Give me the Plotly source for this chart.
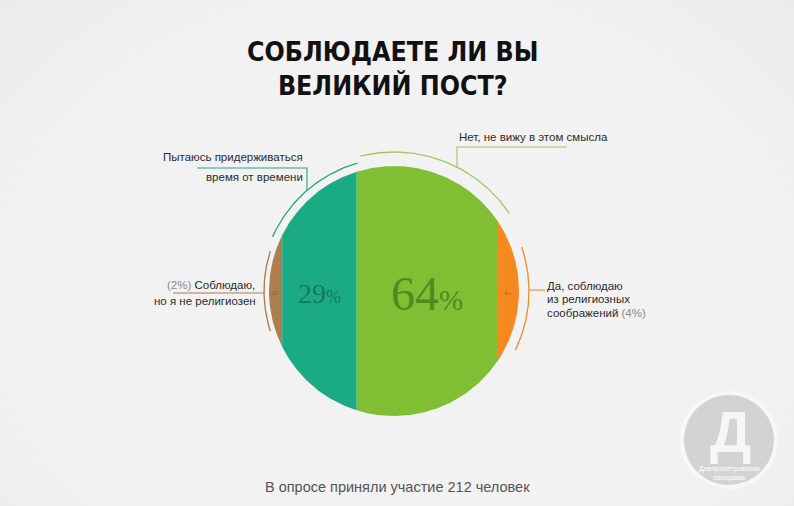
import numpy as np
import plotly.graph_objects as go

# ---------------- data ----------------
categories = ["Соблюдаю, но я не религиозен",
              "Пытаюсь придерживаться время от времени",
              "Нет, не вижу в этом смысла",
              "Да, соблюдаю из религиозных соображений"]
values = [2, 29, 64, 4]
inner_labels = ["2%", "29%", "64%", "4%"]
title_text = "СОБЛЮДАЕТЕ ЛИ ВЫ<br>ВЕЛИКИЙ ПОСТ?"
footer_text = "В опросе приняли участие 212 человек"

# ---------------- styles ----------------
W, H = 794, 506
CX, CY, R = 394, 291, 125
fill_colors = ["#ad7f4e", "#1bab84", "#80bf33", "#f5891f"]
label_colors = ["#7a5530", "#147a5c", "#4e8c1e", "#b35f0c"]
arc_colors = ["#a97a4f", "#2aa382", "#a3c766", "#ef8a2c"]
# arcs: (radius, start deg, end deg)
arcs = [(130, 162, 198), (133, 106, 156), (139, 34, 104), (135, -26, 19)]
SANS = "Liberation Sans, Arial, sans-serif"
SERIF = "Liberation Serif, DejaVu Serif, serif"


def left_frac(x):
    return (x * np.sqrt(1 - x * x) + np.arcsin(x) + np.pi / 2) / np.pi


def solve(c):
    lo, hi = -1.0, 1.0
    for _ in range(60):
        mid = (lo + hi) / 2
        if left_frac(mid) < c:
            lo = mid
        else:
            hi = mid
    return (lo + hi) / 2


total = sum(values)
cum = np.cumsum([0] + values) / total
bounds = [solve(c) if 0 < c < 1 else (-1.0 if c <= 0 else 1.0) for c in cum]

fig = go.Figure()

# background light radial glow (many faint layers -> smooth)
shapes = []
n_layers = 26
for k in range(n_layers):
    rr = 560 - k * 20
    shapes.append(dict(type="circle", xref="x", yref="y", layer="below",
                       x0=400 - rr * 1.3, x1=400 + rr * 1.3, y0=300 - rr, y1=300 + rr,
                       fillcolor="white", opacity=0.07, line=dict(width=0)))
# watermark
shapes.append(dict(type="circle", xref="x", yref="y", layer="below",
                   x0=680, x1=778, y0=391, y1=489,
                   fillcolor="#f7f7f7", line=dict(width=0)))
shapes.append(dict(type="circle", xref="x", yref="y", layer="below",
                   x0=684, x1=774, y0=395, y1=485,
                   fillcolor="#d3d3d3", line=dict(width=0)))

# segments
for i, v in enumerate(values):
    a, b = bounds[i], bounds[i + 1]
    xs = np.linspace(a, b, 120)
    top = CY - R * np.sqrt(np.clip(1 - xs ** 2, 0, None))
    bot = CY + R * np.sqrt(np.clip(1 - xs ** 2, 0, None))
    px = np.concatenate([CX + R * xs, CX + R * xs[::-1]])
    py = np.concatenate([top, bot[::-1]])
    fig.add_trace(go.Scatter(x=px, y=py, mode="lines", fill="toself",
                             fillcolor=fill_colors[i], line=dict(width=0),
                             name=categories[i], hoverinfo="name"))

# outer arcs
for i, (rr, a0, a1) in enumerate(arcs):
    t = np.radians(np.linspace(a0, a1, 80))
    fig.add_trace(go.Scatter(x=CX + rr * np.cos(t), y=CY - rr * np.sin(t), mode="lines",
                             line=dict(color=arc_colors[i], width=1.3), hoverinfo="skip"))


def arc_y_at_x(rr, x):
    return CY - np.sqrt(rr ** 2 - (x - CX) ** 2)


# leader lines
leaders = [
    ([173, CX - arcs[0][0]], [293, 293], arc_colors[0]),
    ([197, 307, 307], [168, 168, arc_y_at_x(arcs[1][0], 307)], arc_colors[1]),
    ([567, 457, 457], [147, 147, arc_y_at_x(arcs[2][0], 457)], arc_colors[2]),
    ([CX + arcs[3][0], 545], [290, 290], arc_colors[3]),
]
for lx, ly, col in leaders:
    fig.add_trace(go.Scatter(x=lx, y=ly, mode="lines", line=dict(color=col, width=1.1),
                             hoverinfo="skip"))

annotations = []
# inner percentage labels
sizes = [(6, 4), (28, 18), (48, 29), (7, 5)]
for i, lab in enumerate(inner_labels):
    xm = CX + R * (bounds[i] + bounds[i + 1]) / 2
    num = lab[:-1]
    s1, s2 = sizes[i]
    annotations.append(dict(x=xm, y=CY + 2, xref="x", yref="y", showarrow=False,
                            text=f"{num}<span style='font-size:{s2}px'>%</span>",
                            font=dict(family=SERIF, size=s1, color=label_colors[i]),
                            xanchor="center", yanchor="middle"))

txt = "#2b2b2b"
annotations += [
    dict(x=392, y=68, text=title_text,
         font=dict(family="DejaVu Sans Condensed, Liberation Sans Narrow, Liberation Sans, sans-serif",
                   size=26.5, color="#111111", weight="bold"),
         xanchor="center", yanchor="middle"),
    dict(x=305, y=157, text="Пытаюсь придерживаться", xanchor="right"),
    dict(x=305, y=177, text="время от времени", xanchor="right"),
    dict(x=457, y=137, text="Нет, не вижу в этом смысла", xanchor="left"),
    dict(x=257, y=285, text="<span style='color:#8a8a8a'>(2%)</span> Соблюдаю,", xanchor="right"),
    dict(x=258, y=301, text="но я не религиозен", xanchor="right"),
    dict(x=545, y=286, text="Да, соблюдаю", xanchor="left"),
    dict(x=545, y=299, text="из религиозных", xanchor="left"),
    dict(x=545, y=313, text="соображений <span style='color:#8a8a8a'>(4%)</span>", xanchor="left"),
    dict(x=397, y=487, text=footer_text, xanchor="center",
         font=dict(family=SANS, size=14.5, color="#555555")),
    dict(x=730, y=431, text="<b>Д</b>", xanchor="center",
         font=dict(family="Liberation Sans, Arial", size=58, color="#f6f6f6")),
    dict(x=729, y=469, text="Днепропетровская", xanchor="center",
         font=dict(family=SANS, size=7, color="white")),
    dict(x=729, y=478, text="панорама", xanchor="center",
         font=dict(family=SANS, size=7, color="white")),
]
for an in annotations:
    an.setdefault("xref", "x")
    an.setdefault("yref", "y")
    an.setdefault("showarrow", False)
    an.setdefault("yanchor", "middle")
    an.setdefault("font", dict(family=SANS, size=11.5, color=txt))

fig.update_layout(
    width=W, height=H, margin=dict(l=0, r=0, t=0, b=0),
    paper_bgcolor="#e4e4e4", plot_bgcolor="rgba(0,0,0,0)",
    showlegend=False,
    xaxis=dict(range=[0, W], visible=False, fixedrange=True),
    yaxis=dict(range=[H, 0], visible=False, fixedrange=True),
    shapes=shapes, annotations=annotations,
)

fig.write_html("out.html")
